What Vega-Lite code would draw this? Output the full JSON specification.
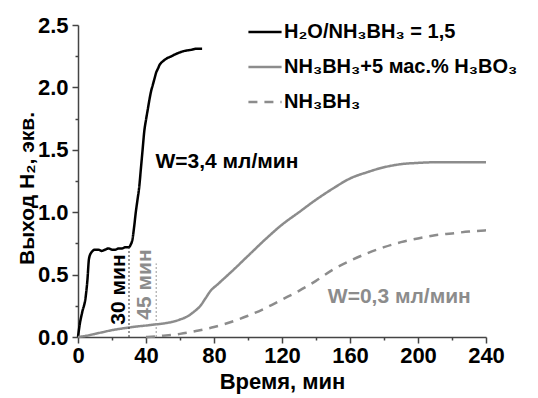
{
  "$schema": "https://vega.github.io/schema/vega-lite/v6.json",
  "autosize": "none",
  "width": 408,
  "height": 312,
  "padding": {"left": 78, "top": 25, "right": 52, "bottom": 61},
  "background": "white",
  "config": {
    "view": {"stroke": null},
    "font": "Liberation Sans, sans-serif"
  },
  "datasets": {
    "curves": [
      {"t": 0, "v": 0, "s": "H₂O/NH₃BH₃ = 1,5"},
      {"t": 1, "v": 0.1, "s": "H₂O/NH₃BH₃ = 1,5"},
      {"t": 2.5, "v": 0.2, "s": "H₂O/NH₃BH₃ = 1,5"},
      {"t": 4.5, "v": 0.32, "s": "H₂O/NH₃BH₃ = 1,5"},
      {"t": 5.5, "v": 0.45, "s": "H₂O/NH₃BH₃ = 1,5"},
      {"t": 6.5, "v": 0.63, "s": "H₂O/NH₃BH₃ = 1,5"},
      {"t": 8, "v": 0.68, "s": "H₂O/NH₃BH₃ = 1,5"},
      {"t": 10, "v": 0.7, "s": "H₂O/NH₃BH₃ = 1,5"},
      {"t": 12, "v": 0.7, "s": "H₂O/NH₃BH₃ = 1,5"},
      {"t": 14, "v": 0.69, "s": "H₂O/NH₃BH₃ = 1,5"},
      {"t": 16, "v": 0.7, "s": "H₂O/NH₃BH₃ = 1,5"},
      {"t": 18, "v": 0.71, "s": "H₂O/NH₃BH₃ = 1,5"},
      {"t": 20, "v": 0.7, "s": "H₂O/NH₃BH₃ = 1,5"},
      {"t": 22, "v": 0.7, "s": "H₂O/NH₃BH₃ = 1,5"},
      {"t": 24, "v": 0.71, "s": "H₂O/NH₃BH₃ = 1,5"},
      {"t": 26, "v": 0.71, "s": "H₂O/NH₃BH₃ = 1,5"},
      {"t": 28, "v": 0.72, "s": "H₂O/NH₃BH₃ = 1,5"},
      {"t": 30, "v": 0.72, "s": "H₂O/NH₃BH₃ = 1,5"},
      {"t": 31, "v": 0.74, "s": "H₂O/NH₃BH₃ = 1,5"},
      {"t": 32, "v": 0.78, "s": "H₂O/NH₃BH₃ = 1,5"},
      {"t": 33, "v": 0.88, "s": "H₂O/NH₃BH₃ = 1,5"},
      {"t": 34, "v": 1.0, "s": "H₂O/NH₃BH₃ = 1,5"},
      {"t": 35, "v": 1.1, "s": "H₂O/NH₃BH₃ = 1,5"},
      {"t": 36, "v": 1.2, "s": "H₂O/NH₃BH₃ = 1,5"},
      {"t": 37, "v": 1.35, "s": "H₂O/NH₃BH₃ = 1,5"},
      {"t": 38, "v": 1.5, "s": "H₂O/NH₃BH₃ = 1,5"},
      {"t": 39, "v": 1.65, "s": "H₂O/NH₃BH₃ = 1,5"},
      {"t": 40, "v": 1.74, "s": "H₂O/NH₃BH₃ = 1,5"},
      {"t": 41, "v": 1.82, "s": "H₂O/NH₃BH₃ = 1,5"},
      {"t": 42, "v": 1.9, "s": "H₂O/NH₃BH₃ = 1,5"},
      {"t": 43, "v": 1.97, "s": "H₂O/NH₃BH₃ = 1,5"},
      {"t": 44, "v": 2.02, "s": "H₂O/NH₃BH₃ = 1,5"},
      {"t": 45, "v": 2.07, "s": "H₂O/NH₃BH₃ = 1,5"},
      {"t": 46, "v": 2.12, "s": "H₂O/NH₃BH₃ = 1,5"},
      {"t": 47, "v": 2.15, "s": "H₂O/NH₃BH₃ = 1,5"},
      {"t": 48, "v": 2.18, "s": "H₂O/NH₃BH₃ = 1,5"},
      {"t": 50, "v": 2.21, "s": "H₂O/NH₃BH₃ = 1,5"},
      {"t": 52, "v": 2.23, "s": "H₂O/NH₃BH₃ = 1,5"},
      {"t": 55, "v": 2.25, "s": "H₂O/NH₃BH₃ = 1,5"},
      {"t": 58, "v": 2.27, "s": "H₂O/NH₃BH₃ = 1,5"},
      {"t": 62, "v": 2.29, "s": "H₂O/NH₃BH₃ = 1,5"},
      {"t": 66, "v": 2.3, "s": "H₂O/NH₃BH₃ = 1,5"},
      {"t": 70, "v": 2.31, "s": "H₂O/NH₃BH₃ = 1,5"},
      {"t": 73, "v": 2.31, "s": "H₂O/NH₃BH₃ = 1,5"},
      {"t": 0, "v": 0, "s": "NH₃BH₃+5 мас.% H₃BO₃"},
      {"t": 5, "v": 0.01, "s": "NH₃BH₃+5 мас.% H₃BO₃"},
      {"t": 10, "v": 0.025, "s": "NH₃BH₃+5 мас.% H₃BO₃"},
      {"t": 15, "v": 0.04, "s": "NH₃BH₃+5 мас.% H₃BO₃"},
      {"t": 20, "v": 0.055, "s": "NH₃BH₃+5 мас.% H₃BO₃"},
      {"t": 25, "v": 0.066, "s": "NH₃BH₃+5 мас.% H₃BO₃"},
      {"t": 30, "v": 0.076, "s": "NH₃BH₃+5 мас.% H₃BO₃"},
      {"t": 35, "v": 0.085, "s": "NH₃BH₃+5 мас.% H₃BO₃"},
      {"t": 40, "v": 0.092, "s": "NH₃BH₃+5 мас.% H₃BO₃"},
      {"t": 45, "v": 0.1, "s": "NH₃BH₃+5 мас.% H₃BO₃"},
      {"t": 50, "v": 0.108, "s": "NH₃BH₃+5 мас.% H₃BO₃"},
      {"t": 55, "v": 0.12, "s": "NH₃BH₃+5 мас.% H₃BO₃"},
      {"t": 60, "v": 0.14, "s": "NH₃BH₃+5 мас.% H₃BO₃"},
      {"t": 65, "v": 0.17, "s": "NH₃BH₃+5 мас.% H₃BO₃"},
      {"t": 68, "v": 0.2, "s": "NH₃BH₃+5 мас.% H₃BO₃"},
      {"t": 72, "v": 0.25, "s": "NH₃BH₃+5 мас.% H₃BO₃"},
      {"t": 75, "v": 0.31, "s": "NH₃BH₃+5 мас.% H₃BO₃"},
      {"t": 78, "v": 0.37, "s": "NH₃BH₃+5 мас.% H₃BO₃"},
      {"t": 82, "v": 0.42, "s": "NH₃BH₃+5 мас.% H₃BO₃"},
      {"t": 86, "v": 0.47, "s": "NH₃BH₃+5 мас.% H₃BO₃"},
      {"t": 90, "v": 0.52, "s": "NH₃BH₃+5 мас.% H₃BO₃"},
      {"t": 100, "v": 0.65, "s": "NH₃BH₃+5 мас.% H₃BO₃"},
      {"t": 110, "v": 0.78, "s": "NH₃BH₃+5 мас.% H₃BO₃"},
      {"t": 120, "v": 0.9, "s": "NH₃BH₃+5 мас.% H₃BO₃"},
      {"t": 130, "v": 1.0, "s": "NH₃BH₃+5 мас.% H₃BO₃"},
      {"t": 140, "v": 1.1, "s": "NH₃BH₃+5 мас.% H₃BO₃"},
      {"t": 150, "v": 1.19, "s": "NH₃BH₃+5 мас.% H₃BO₃"},
      {"t": 160, "v": 1.27, "s": "NH₃BH₃+5 мас.% H₃BO₃"},
      {"t": 170, "v": 1.32, "s": "NH₃BH₃+5 мас.% H₃BO₃"},
      {"t": 180, "v": 1.36, "s": "NH₃BH₃+5 мас.% H₃BO₃"},
      {"t": 190, "v": 1.385, "s": "NH₃BH₃+5 мас.% H₃BO₃"},
      {"t": 200, "v": 1.395, "s": "NH₃BH₃+5 мас.% H₃BO₃"},
      {"t": 210, "v": 1.4, "s": "NH₃BH₃+5 мас.% H₃BO₃"},
      {"t": 225, "v": 1.4, "s": "NH₃BH₃+5 мас.% H₃BO₃"},
      {"t": 240, "v": 1.4, "s": "NH₃BH₃+5 мас.% H₃BO₃"},
      {"t": 40, "v": 0, "s": "NH₃BH₃"},
      {"t": 50, "v": 0.01, "s": "NH₃BH₃"},
      {"t": 60, "v": 0.025, "s": "NH₃BH₃"},
      {"t": 70, "v": 0.05, "s": "NH₃BH₃"},
      {"t": 80, "v": 0.08, "s": "NH₃BH₃"},
      {"t": 90, "v": 0.12, "s": "NH₃BH₃"},
      {"t": 100, "v": 0.17, "s": "NH₃BH₃"},
      {"t": 110, "v": 0.23, "s": "NH₃BH₃"},
      {"t": 120, "v": 0.3, "s": "NH₃BH₃"},
      {"t": 130, "v": 0.37, "s": "NH₃BH₃"},
      {"t": 140, "v": 0.45, "s": "NH₃BH₃"},
      {"t": 150, "v": 0.54, "s": "NH₃BH₃"},
      {"t": 160, "v": 0.61, "s": "NH₃BH₃"},
      {"t": 170, "v": 0.67, "s": "NH₃BH₃"},
      {"t": 180, "v": 0.72, "s": "NH₃BH₃"},
      {"t": 190, "v": 0.76, "s": "NH₃BH₃"},
      {"t": 200, "v": 0.79, "s": "NH₃BH₃"},
      {"t": 210, "v": 0.815, "s": "NH₃BH₃"},
      {"t": 220, "v": 0.83, "s": "NH₃BH₃"},
      {"t": 230, "v": 0.845, "s": "NH₃BH₃"},
      {"t": 240, "v": 0.855, "s": "NH₃BH₃"}
    ],
    "marks": [
      {"t": 30, "v": 0, "v2": 0.72, "c": "#333333"},
      {"t": 46, "v": 0, "v2": 0.59, "c": "#999999"}
    ],
    "labels": [
      {"t": 24, "v": 0.38, "txt": "30 мин", "c": "#000000", "a": 270},
      {"t": 39.6, "v": 0.42, "txt": "45 мин", "c": "#8c8c8c", "a": 270},
      {"t": 87.6, "v": 1.4, "txt": "W=3,4 мл/мин", "c": "#000000", "a": 0},
      {"t": 189, "v": 0.32, "txt": "W=0,3 мл/мин", "c": "#8c8c8c", "a": 0}
    ]
  },
  "resolve": {"axis": {"x": "independent", "y": "independent"}},
  "layer": [
    {
      "data": {"name": "curves"},
      "mark": {"type": "line", "strokeWidth": 2.5, "interpolate": "monotone"},
      "encoding": {
        "x": {"field": "t", "type": "quantitative",
          "scale": {"domain": [0, 240], "nice": false, "zero": false},
          "axis": {"orient": "bottom", "values": [0, 40, 80, 120, 160, 200, 240], "title": "Время, мин",
            "grid": false, "domainColor": "#444", "domainWidth": 1.5, "tickColor": "#444", "tickWidth": 1.5, "tickSize": 6,
            "labelFont": "Liberation Sans, sans-serif", "labelFontSize": 22, "labelFontWeight": "bold", "labelColor": "#000", "labelPadding": 2, "labelFlush": false,
            "titleFont": "Liberation Sans, sans-serif", "titleFontSize": 22, "titleFontWeight": "bold", "titleColor": "#000", "titlePadding": 5}},
        "y": {"field": "v", "type": "quantitative",
          "scale": {"domain": [0, 2.5], "nice": false},
          "axis": {"orient": "left", "values": [0, 0.5, 1, 1.5, 2, 2.5], "format": ".1f", "title": "Выход H₂, экв.",
            "grid": false, "domainColor": "#444", "domainWidth": 1.5, "tickColor": "#444", "tickWidth": 1.5, "tickSize": 6,
            "labelFont": "Liberation Sans, sans-serif", "labelFontSize": 22, "labelFontWeight": "bold", "labelColor": "#000", "labelPadding": 4, "labelFlush": false,
            "titleFont": "Liberation Sans, sans-serif", "titleFontSize": 21, "titleFontWeight": "bold", "titleColor": "#000", "titleY": 163, "titlePadding": 0}},
        "color": {"field": "s", "type": "nominal",
          "scale": {"domain": ["H₂O/NH₃BH₃ = 1,5", "NH₃BH₃+5 мас.% H₃BO₃", "NH₃BH₃"], "range": ["#000000", "#8c8c8c", "#8c8c8c"]},
          "legend": {"orient": "none", "legendX": 169, "legendY": -11, "title": null, "symbolType": "stroke", "symbolSize": 1100, "symbolStrokeWidth": 2.5,
            "labelFont": "Liberation Sans, sans-serif", "labelFontSize": 20, "labelFontWeight": "bold", "labelColor": "#000", "labelLimit": 400, "labelOffset": 1, "rowPadding": 7}},
        "strokeDash": {"field": "s", "type": "nominal",
          "scale": {"domain": ["H₂O/NH₃BH₃ = 1,5", "NH₃BH₃+5 мас.% H₃BO₃", "NH₃BH₃"], "range": [[1, 0], [1, 0], [9, 7]]},
          "legend": {"orient": "none", "legendX": 169, "legendY": -11, "title": null, "symbolType": "stroke", "symbolSize": 1100, "symbolStrokeWidth": 2.5,
            "labelFont": "Liberation Sans, sans-serif", "labelFontSize": 20, "labelFontWeight": "bold", "labelColor": "#000", "labelLimit": 400, "labelOffset": 1, "rowPadding": 7}}
      }
    },
    {
      "data": {"name": "marks"},
      "mark": {"type": "rule", "strokeDash": [2, 2], "strokeWidth": 1},
      "encoding": {
        "x": {"field": "t", "type": "quantitative", "axis": null},
        "y": {"field": "v", "type": "quantitative", "axis": null},
        "y2": {"field": "v2"},
        "color": {"field": "c", "type": "nominal", "scale": null, "legend": null}
      }
    },
    {
      "data": {"name": "labels"},
      "mark": {"type": "text", "font": "Liberation Sans, sans-serif", "fontSize": 21, "fontWeight": "bold", "align": "center", "baseline": "middle"},
      "encoding": {
        "x": {"field": "t", "type": "quantitative",
          "axis": {"orient": "bottom", "values": [20, 60, 100, 140, 180, 220], "labels": false, "domain": false, "title": null, "grid": false, "tickColor": "#444", "tickWidth": 1.5, "tickSize": 3}},
        "y": {"field": "v", "type": "quantitative",
          "axis": {"orient": "left", "values": [0.25, 0.75, 1.25, 1.75, 2.25], "labels": false, "domain": false, "title": null, "grid": false, "tickColor": "#444", "tickWidth": 1.5, "tickSize": 3}},
        "text": {"field": "txt"},
        "angle": {"field": "a", "type": "quantitative", "scale": null},
        "color": {"field": "c", "type": "nominal", "scale": null, "legend": null}
      }
    }
  ]
}
